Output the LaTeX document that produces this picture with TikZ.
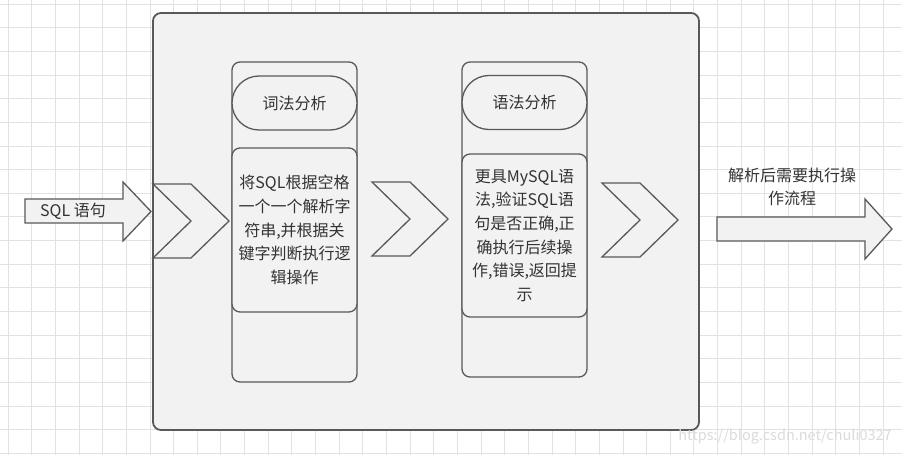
\documentclass[tikz,border=0pt]{standalone}
\usepackage{fontspec}
\setmainfont{Noto Sans CJK SC}
\usetikzlibrary{positioning}
\definecolor{linegray}{HTML}{595959}
\definecolor{panefill}{HTML}{F2F2F2}
\definecolor{gridgray}{HTML}{E2E2E2}
\definecolor{txtgray}{HTML}{333333}
\tikzset{
  gridline/.style={draw=gridgray, line width=0.8pt},
  pane/.style={draw=linegray, line width=1.8pt, rounded corners=8pt, fill=panefill},
  col/.style={draw=linegray, line width=1.3pt, rounded corners=8pt, fill=panefill,
              minimum width=125pt, inner sep=0pt},
  stad/.style={col, rounded corners=27pt, minimum height=54pt,
               font=\fontsize{16}{20}\selectfont, text=txtgray},
  desc/.style={col, align=center, font=\fontsize{16}{23.7}\selectfont, text=txtgray},
  chev/.style={draw=linegray, line width=1.3pt, fill=panefill, line join=miter},
  bigarrow/.style={draw=linegray, line width=1.3pt, fill=panefill, line join=miter},
  lbl/.style={font=\fontsize{16}{23.7}\selectfont, text=txtgray, align=center},
}

\begin{document}
\begin{tikzpicture}[x=1pt, y=-1pt]
  \useasboundingbox (0,0) rectangle (902,455);
  \fill[white] (0,0) rectangle (902,455);
  % background grid
  \foreach \i in {0,...,37}
    \draw[gridline] (8+\i*23.65,0) -- ++(0,455);
  \foreach \j in {0,...,19}
    \draw[gridline] (0,4+\j*23.65) -- ++(902,0);

  % parser pane
  \draw[pane] (153,13) rectangle (699,430);

  % lexical column
  \node[col, minimum height=320pt] (lexcol) at (294.5,222) {};
  \node[stad] (lex) at (294.5,103) {词法分析};
  \node[desc, minimum height=164pt] (lexdesc) at (294.5,230)
    {将SQL根据空格\\一个一个解析字\\符串,并根据关\\键字判断执行逻\\辑操作};

  % syntax column
  \node[col, minimum height=315pt] (syncol) at (524.5,219.5) {};
  \node[stad] (syn) at (524.5,102.5) {语法分析};
  \node[desc, minimum height=163pt] (syndesc) at (524.5,235.5)
    {更具MySQL语\\法,验证SQL语\\句是否正确,正\\确执行后续操\\作,错误,返回提\\示};

  % chevrons
  \foreach \cx/\cy in {153/184, 372/182, 602/183}
    \draw[chev] (\cx,\cy) -- ++(38,0) -- ++(38,37) -- ++(-38,37)
                -- ++(-38,0) -- ++(38,-37) -- cycle;

  % input and output arrows
  \draw[bigarrow] (25,199) -- (123,199) -- (123,182) -- (151,211.5)
                  -- (123,241) -- (123,223) -- (25,223) -- cycle;
  \node[lbl] (sqlin) at (73,211) {SQL 语句};
  \draw[bigarrow] (717,217) -- (865,217) -- (865,199) -- (892,229)
                  -- (865,259) -- (865,241) -- (717,241) -- cycle;
  \node[lbl] (out) at (792,187) {解析后需要执行操\\作流程};

  \node[font=\fontsize{14.5}{16}\selectfont, text=gray!28] (wm) at (785,437)
    {https://blog.csdn.net/chuli0327};
\end{tikzpicture}
\end{document}
